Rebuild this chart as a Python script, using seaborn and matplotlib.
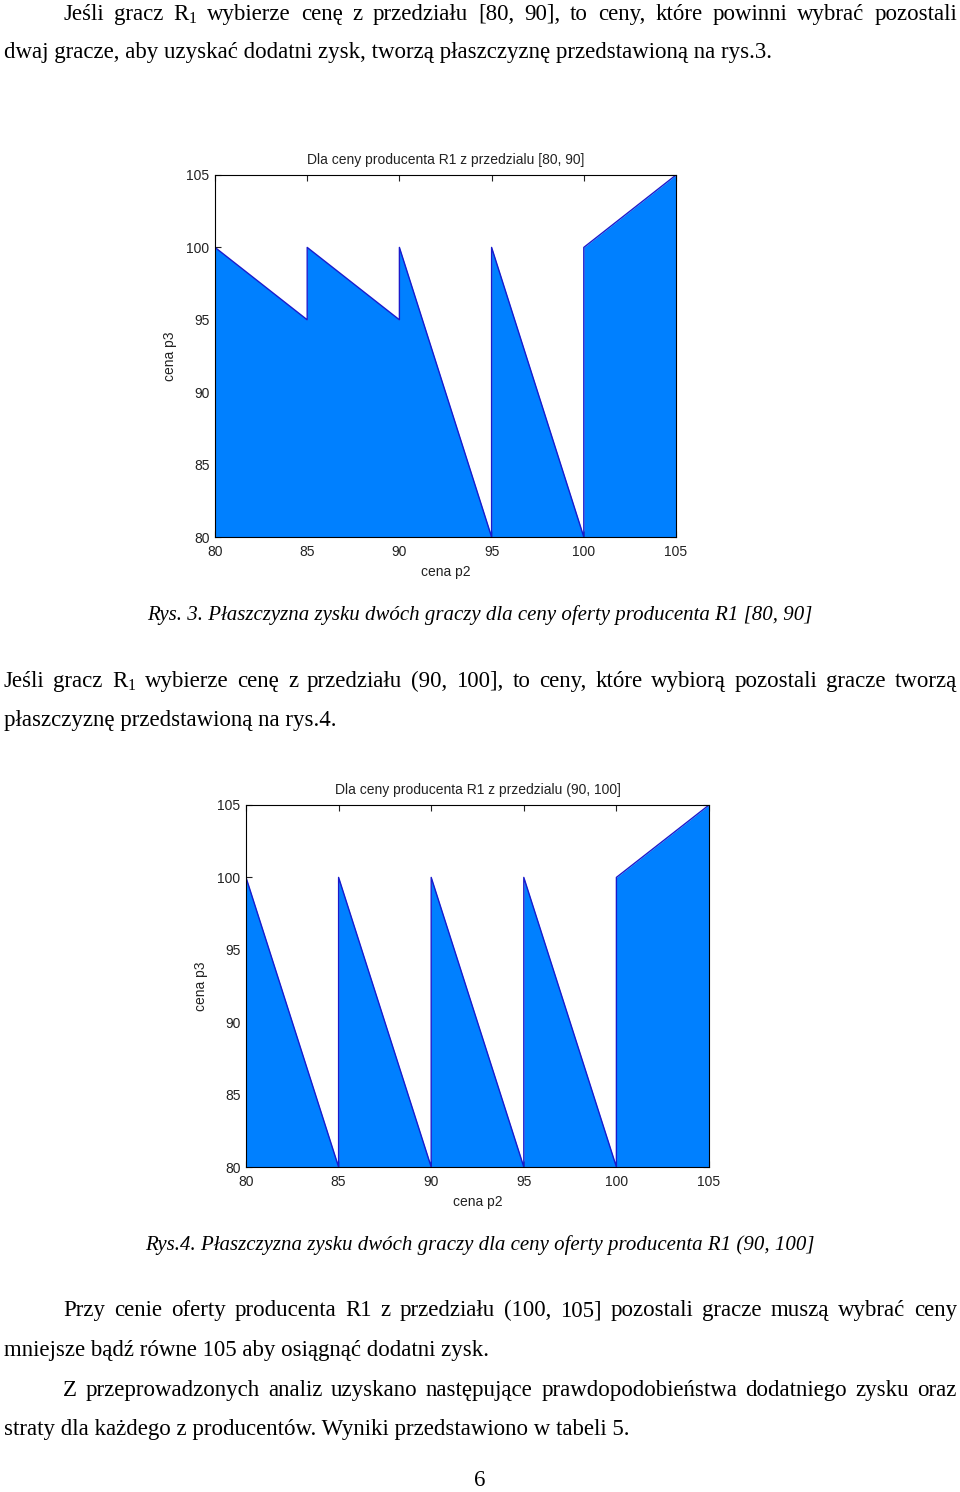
import matplotlib
matplotlib.use('Agg')
import matplotlib.pyplot as plt
import seaborn as sns

# data
p2 = [80, 85, 85, 90, 90, 95, 95, 100, 100, 105]
p3_rys3 = [100, 95, 100, 95, 100, 80, 100, 80, 100, 105]
p3_rys4 = [100, 80, 100, 80, 100, 80, 100, 80, 100, 105]
ticks = [80, 85, 90, 95, 100, 105]
titles = ['Dla ceny producenta R1 z przedzialu [80, 90]',
          'Dla ceny producenta R1 z przedzialu (90, 100]']

W, H = 960, 1492
sns.set_style('ticks')
plt.rcParams['font.family'] = ['Liberation Sans', 'DejaVu Sans']
plt.rcParams['mathtext.fontset'] = 'custom'
plt.rcParams['mathtext.rm'] = 'Liberation Serif'

fig = plt.figure(figsize=(W / 100, H / 100), dpi=100)
fill_color = '#0080ff'
edge_color = '#1a1acc'


def draw_panel(rect, p3, title):
    left, top, right, bottom = rect
    ax = fig.add_axes([left / W, 1 - bottom / H, (right - left) / W, (bottom - top) / H])
    ax.fill_between(p2, p3, 80, color=fill_color, linewidth=0)
    sns.lineplot(x=p2, y=p3, ax=ax, color=edge_color, sort=False, estimator=None, linewidth=1)
    ax.set_xlim(80, 105)
    ax.set_ylim(80, 105)
    ax.set_xticks(ticks)
    ax.set_yticks(ticks)
    ax.tick_params(direction='in', top=True, right=True, length=4, width=0.8,
                   labelsize=10, colors='#222222')
    ax.tick_params(axis='x', pad=6)
    ax.tick_params(axis='y', pad=4)
    for s in ax.spines.values():
        s.set_visible(True)
        s.set_linewidth(0.8)
        s.set_color('black')
    ax.set_title(title, fontsize=10, pad=8, color='#222222')
    ax.set_xlabel('cena p2', fontsize=10, labelpad=4, color='#222222')
    ax.set_ylabel('cena p3', fontsize=10, labelpad=7, color='#222222')
    return ax


draw_panel((215, 175, 676, 537), p3_rys3, titles[0])
draw_panel((246, 805, 709, 1167), p3_rys4, titles[1])

serif = dict(family='Liberation Serif', fontsize=16.5, color='black')
renderer = fig.canvas.get_renderer()


def put(x, yb, s, **kw):
    opts = dict(serif)
    opts.update(kw)
    return fig.text(x / W, 1 - yb / H, s, va='baseline', **opts)


def justify(line, x0, x1, yb, **kw):
    words = line.split(' ')
    texts = [put(0, yb, w, **kw) for w in words]
    widths = [t.get_window_extent(renderer).width for t in texts]
    gap = (x1 - x0 - sum(widths)) / (len(words) - 1)
    x = x0
    for t, w in zip(texts, widths):
        t.set_x(x / W)
        x += w + gap


R1 = r'R$_\mathregular{1}$'
justify(f'Jeśli gracz {R1} wybierze cenę z przedziału [80, 90], to ceny, które powinni wybrać pozostali',
        63, 957, 20)
put(4, 58, 'dwaj gracze, aby uzyskać dodatni zysk, tworzą płaszczyznę przedstawioną na rys.3.')
put(480, 620, 'Rys. 3. Płaszczyzna zysku dwóch graczy dla ceny oferty producenta R1 [80, 90]',
    ha='center', style='italic', fontsize=15)
justify(f'Jeśli gracz {R1} wybierze cenę z przedziału (90, 100], to ceny, które wybiorą pozostali gracze tworzą',
        4, 957, 687)
put(4, 726, 'płaszczyznę przedstawioną na rys.4.')
put(480, 1250, 'Rys.4. Płaszczyzna zysku dwóch graczy dla ceny oferty producenta R1 (90, 100]',
    ha='center', style='italic', fontsize=15)
justify('Przy cenie oferty producenta R1 z przedziału (100, 105] pozostali gracze muszą wybrać ceny',
        63, 957, 1316)
put(4, 1356, 'mniejsze bądź równe 105 aby osiągnąć dodatni zysk.')
justify('Z przeprowadzonych analiz uzyskano następujące prawdopodobieństwa dodatniego zysku oraz',
        63, 957, 1396)
put(4, 1435, 'straty dla każdego z producentów. Wyniki przedstawiono w tabeli 5.')
put(480, 1486, '6', ha='center')

fig.savefig('out.png', dpi=100)
